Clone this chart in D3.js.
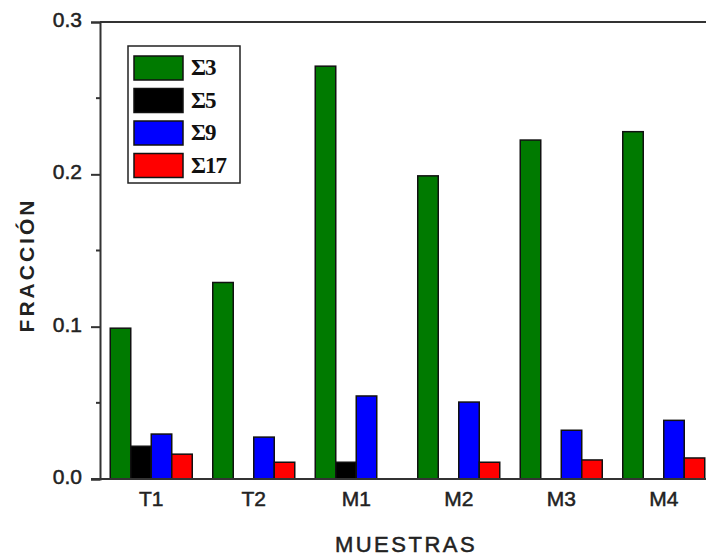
<!DOCTYPE html>
<html>
<head>
<meta charset="utf-8">
<script src="https://cdn.jsdelivr.net/npm/d3@7"></script>
<style>
  body { margin: 0; background: #fff; }
  svg { display: block; }
</style>
</head>
<body>
<div id="chart"></div>
<script>
'use strict';

var samples = ['T1', 'T2', 'M1', 'M2', 'M3', 'M4'];
var seriesNames = ['Σ3', 'Σ5', 'Σ9', 'Σ17'];
var sigma3 = [0.099, 0.129, 0.271, 0.199, 0.2225, 0.228];
var sigma5 = [0.0215, 0, 0.011, 0, 0, 0];
var sigma9 = [0.0295, 0.0275, 0.0545, 0.0505, 0.032, 0.0385];
var sigma17 = [0.0163, 0.011, 0, 0.011, 0.0125, 0.0138];
var yTicks = [0, 0.1, 0.2, 0.3];
var yMinorTicks = [0.05, 0.15, 0.25];

var colors = ['#007a00', '#000000', '#0000ff', '#ff0000'];
var series = [sigma3, sigma5, sigma9, sigma17];

var width = 706, height = 558;
var plotLeft = 100, plotRight = 715, plotTop = 22, plotBottom = 479;

var svg = d3.select('#chart').append('svg')
    .attr('width', width)
    .attr('height', height);

var x = d3.scaleBand()
    .domain(samples)
    .range([plotLeft, plotRight])
    .paddingInner(0.2)
    .paddingOuter(0.1);

var xInner = d3.scaleBand()
    .domain(seriesNames)
    .range([0, x.bandwidth()]);

var y = d3.scaleLinear()
    .domain([0, 0.3])
    .range([plotBottom, plotTop]);

//build the rows for the bars
var rows = [];
samples.forEach(function(s, i) {
    seriesNames.forEach(function(n, j) {
        rows.push({ sample: s, name: n, value: series[j][i], color: colors[j] });
    });
});

//bars
svg.append('g')
    .selectAll('rect')
    .data(rows.filter(function(d) { return d.value > 0; }))
    .enter().append('rect')
    .attr('x', function(d) { return x(d.sample) + xInner(d.name); })
    .attr('y', function(d) { return y(d.value); })
    .attr('width', xInner.bandwidth())
    .attr('height', function(d) { return y(0) - y(d.value); })
    .attr('fill', function(d) { return d.color; })
    .attr('stroke', '#111')
    .attr('stroke-width', 1.5);

//frame line on top
svg.append('line')
    .attr('x1', plotLeft).attr('x2', width + 5)
    .attr('y1', plotTop).attr('y2', plotTop)
    .attr('stroke', '#333').attr('stroke-width', 2);

//y axis
var yAxis = svg.append('g')
    .attr('transform', 'translate(' + plotLeft + ',0)')
    .call(d3.axisLeft(y).tickValues(yTicks).tickSize(9).tickPadding(9).tickFormat(d3.format('.1f')));

yAxis.select('.domain').attr('stroke', '#333').attr('stroke-width', 2);
yAxis.selectAll('.tick line').attr('stroke', '#333').attr('stroke-width', 2);
yAxis.selectAll('.tick text')
    .attr('font-family', 'Liberation Sans, Arial, sans-serif')
    .attr('font-size', '21px')
    .attr('fill', '#222')
    .attr('stroke', '#222')
    .attr('stroke-width', 0.5)
    .attr('dy', '0.22em');

svg.append('g')
    .selectAll('line')
    .data(yMinorTicks)
    .enter().append('line')
    .attr('x1', plotLeft - 4).attr('x2', plotLeft)
    .attr('y1', function(d) { return y(d); })
    .attr('y2', function(d) { return y(d); })
    .attr('stroke', '#333').attr('stroke-width', 2);

//x axis
svg.append('line')
    .attr('x1', plotLeft - 9).attr('x2', width + 5)
    .attr('y1', plotBottom).attr('y2', plotBottom)
    .attr('stroke', '#333').attr('stroke-width', 2);

svg.append('g')
    .selectAll('text')
    .data(samples)
    .enter().append('text')
    .attr('x', function(d) { return x(d) + x.bandwidth() / 2; })
    .attr('y', 506)
    .attr('text-anchor', 'middle')
    .attr('font-family', 'Liberation Sans, Arial, sans-serif')
    .attr('font-size', '21px')
    .attr('fill', '#222')
    .attr('stroke', '#222')
    .attr('stroke-width', 0.5)
    .text(function(d) { return d; });

//axis titles
svg.append('text')
    .attr('x', 406)
    .attr('y', 552)
    .attr('text-anchor', 'middle')
    .attr('font-family', 'Liberation Sans, Arial, sans-serif')
    .attr('font-size', '22px')
    .attr('letter-spacing', '2.5px')
    .attr('fill', '#222')
    .attr('stroke', '#222')
    .attr('stroke-width', 0.5)
    .text('MUESTRAS');

svg.append('text')
    .attr('transform', 'translate(34,265) rotate(-90)')
    .attr('text-anchor', 'middle')
    .attr('font-family', 'Liberation Sans, Arial, sans-serif')
    .attr('font-weight', 'bold')
    .attr('font-size', '21px')
    .attr('letter-spacing', '3px')
    .attr('fill', '#222')
    .text('FRACCIÓN');

//legend
var legend = svg.append('g');
legend.append('rect')
    .attr('x', 128).attr('y', 46)
    .attr('width', 112).attr('height', 137)
    .attr('fill', '#fff')
    .attr('stroke', '#222').attr('stroke-width', 1.5);

var items = legend.selectAll('.item')
    .data(seriesNames)
    .enter().append('g')
    .attr('class', 'item')
    .attr('transform', function(d, i) { return 'translate(134,' + (56 + i * 32.5) + ')'; });

items.append('rect')
    .attr('width', 49).attr('height', 24)
    .attr('fill', function(d, i) { return colors[i]; })
    .attr('stroke', '#111').attr('stroke-width', 1.5);

items.append('text')
    .attr('x', 57)
    .attr('y', 19)
    .attr('font-family', 'Liberation Serif, Times New Roman, serif')
    .attr('font-weight', 'bold')
    .attr('font-size', '23px')
    .attr('letter-spacing', '-1px')
    .attr('fill', '#111')
    .text(function(d) { return d; });
</script>
</body>
</html>
